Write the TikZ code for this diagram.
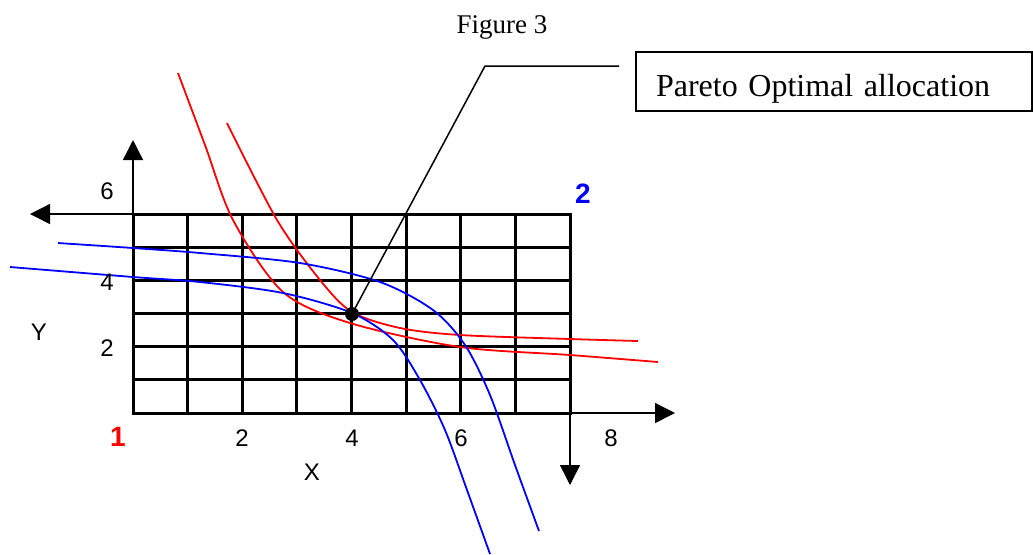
\documentclass[tikz,border=0pt]{standalone}
\usepackage{fontspec}
\newfontfamily\arialf{Liberation Sans}
\newfontfamily\timesf{Liberation Serif}
\usetikzlibrary{arrows.meta}
\begin{document}
\begin{tikzpicture}[x=0.5pt,y=-0.5pt,
  gridln/.style={line width=1.5pt, black, line cap=rect},
  axisarrow/.style={line width=0.7pt, -{Triangle[length=10pt,width=10pt]}},
  redc/.style={red, line width=0.9pt},
  bluec/.style={blue, line width=0.9pt},
  lbl/.style={font=\arialf\fontsize{12}{14}\selectfont, inner sep=0pt},
  biglbl/.style={font=\arialf\bfseries\fontsize{14}{16}\selectfont, inner sep=0pt},
  serif/.style={font=\timesf\fontsize{13.5}{16}\selectfont, inner sep=0pt},
  boxtext/.style={font=\timesf\fontsize{16}{19}\selectfont},
  leader/.style={line width=0.75pt, black}]
\useasboundingbox (0,0) rectangle (1033,554);
% corners
\coordinate (gTL) at (133,214);
\coordinate (gBR) at (570,413);
\coordinate (upTip) at (133,140);
\coordinate (leftTip) at (30,214);
\coordinate (rightTip) at (675,413);
\coordinate (downTip) at (570,485);
% grid
\foreach \i in {0,...,8} \draw[gridln] ({133+\i*54.625},214) -- ({133+\i*54.625},413);
\foreach \j in {0,...,6} \draw[gridln] (133,{214+\j*199/6}) -- (570,{214+\j*199/6});
% axes
\draw[axisarrow] (gTL) -- (upTip);
\draw[axisarrow] (gTL) -- (leftTip);
\draw[axisarrow] (gBR) -- (rightTip);
\draw[axisarrow] (gBR) -- (downTip);
% red curves
\draw[redc] plot[smooth, tension=0.5] coordinates {(178,73) (205,145) (233,220) (283,292) (350,323) (460,347) (570,355) (658,362)};
\draw[redc] plot[smooth, tension=0.5] coordinates {(227,123) (277,220) (320,280) (352,312) (400,328) (460,335) (570,339) (638,341)};
% blue curves
\draw[bluec] plot[smooth, tension=0.5] coordinates {(58,243) (133,248) (200,253) (300,263) (380,282) (433,310) (465,345) (490,395) (515,465) (539,531)};
\draw[bluec] plot[smooth, tension=0.5] coordinates {(10,267) (133,277) (200,282) (283,293) (352,313) (393,340) (420,380) (445,430) (467,490) (490,554)};
% dot and leader
\node[circle, fill=black, inner sep=0pt, minimum size=7pt] (dot) at (352,314) {};
\coordinate (bend) at (485,66);
\coordinate (lend) at (619,66);
\draw[leader] (dot.center) -- (bend) -- (lend);
\node[boxtext, draw, line width=1pt, anchor=north west, text width=178pt, inner xsep=10pt, inner ysep=0pt, text height=22pt, text depth=7.5pt, align=left] (box) at (635,51) {Pareto Optimal allocation};
% labels
\node[serif] (title) at (502,27) {Figure 3};
\node[lbl] (y6) at (107,191) {6};
\node[lbl] (y4) at (107,282) {4};
\node[lbl] (y2) at (107,348) {2};
\node[lbl] (ylab) at (39,332) {Y};
\node[lbl] (x2) at (242,438) {2};
\node[lbl] (x4) at (352,438) {4};
\node[lbl] (x6) at (461,438) {6};
\node[lbl] (x8) at (611,438) {8};
\node[lbl] (xlab) at (312,472) {X};
\node[biglbl, text=red] (one) at (118,437) {1};
\node[biglbl, text=blue] (two) at (583,194) {2};
\end{tikzpicture}
\end{document}
